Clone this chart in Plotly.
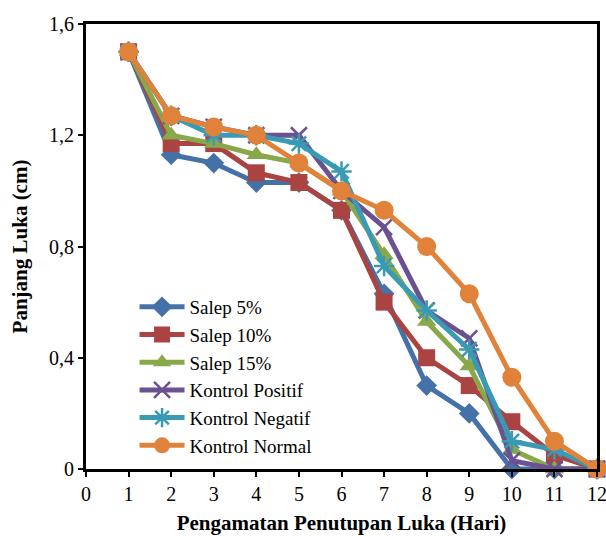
import plotly.graph_objects as go

days = [1, 2, 3, 4, 5, 6, 7, 8, 9, 10, 11, 12]
salep5 = [1.5, 1.13, 1.10, 1.03, 1.03, 0.93, 0.63, 0.30, 0.20, 0.0, 0.0, 0.0]
salep10 = [1.5, 1.17, 1.17, 1.065, 1.03, 0.93, 0.60, 0.40, 0.30, 0.17, 0.05, 0.0]
salep15 = [1.5, 1.20, 1.17, 1.13, 1.10, 1.0, 0.77, 0.53, 0.37, 0.07, 0.0, 0.0]
kpos = [1.5, 1.27, 1.23, 1.20, 1.20, 1.0, 0.87, 0.57, 0.47, 0.03, 0.0, 0.0]
kneg = [1.5, 1.27, 1.20, 1.20, 1.17, 1.07, 0.73, 0.57, 0.43, 0.10, 0.07, 0.0]
knorm = [1.5, 1.27, 1.23, 1.20, 1.10, 1.0, 0.93, 0.80, 0.63, 0.33, 0.10, 0.0]

names = ["Salep 5%", "Salep 10%", "Salep 15%", "Kontrol Positif", "Kontrol Negatif", "Kontrol Normal"]
series = [salep5, salep10, salep15, kpos, kneg, knorm]
colors = ["#4472A8", "#A94442", "#88A84A", "#6B5190", "#3A9AB4", "#E0823A"]
symbols = ["diamond", "square", "triangle-up", "x-thin-open", "asterisk-open", "circle"]
sizes = [16, 17, 17, 16, 17, 19]

fig = go.Figure()
for n, ys, c, s, sz in zip(names, series, colors, symbols, sizes):
    marker = dict(symbol=s, size=sz, color=c)
    if s.endswith("open"):
        marker["line"] = dict(color=c, width=2.5)
    else:
        marker["line"] = dict(width=0)
    fig.add_trace(go.Scatter(x=days, y=ys, name=n, mode="lines+markers",
                             line=dict(color=c, width=5), marker=marker,
                             cliponaxis=False))

font_family = "Times New Roman"
fig.update_layout(
    width=606, height=536,
    margin=dict(l=86, r=9, t=24, b=67),
    paper_bgcolor="white", plot_bgcolor="white",
    font=dict(family=font_family, size=20, color="black"),
    showlegend=True,
    legend=dict(x=0.095, y=0.208, xanchor="left", yanchor="middle",
                bgcolor="rgba(0,0,0,0)", font=dict(size=19),
                tracegroupgap=0, itemwidth=45),
    xaxis=dict(range=[0, 12], tickmode="array", tickvals=list(range(0, 13)),
               ticks="outside", ticklen=5, tickwidth=2, tickcolor="black",
               showline=True, linecolor="black", linewidth=3, mirror=True,
               showgrid=False, zeroline=False, automargin=False,
               ticklabeloverflow="allow",
               title=dict(text="<b>Pengamatan Penutupan Luka (Hari)</b>", font=dict(size=21), standoff=12)),
    yaxis=dict(range=[0, 1.6], tickmode="array", tickvals=[0, 0.4, 0.8, 1.2, 1.6],
               ticktext=["0", "0,4", "0,8", "1,2", "1,6"],
               ticks="outside", ticklen=5, tickwidth=2, tickcolor="black",
               showline=True, linecolor="black", linewidth=3, mirror=True,
               showgrid=False, zeroline=False, automargin=False,
               ticklabeloverflow="allow",
               title=dict(text="<b>Panjang Luka (cm)</b>", font=dict(size=21), standoff=16)),
)
fig.write_html("out.html")
